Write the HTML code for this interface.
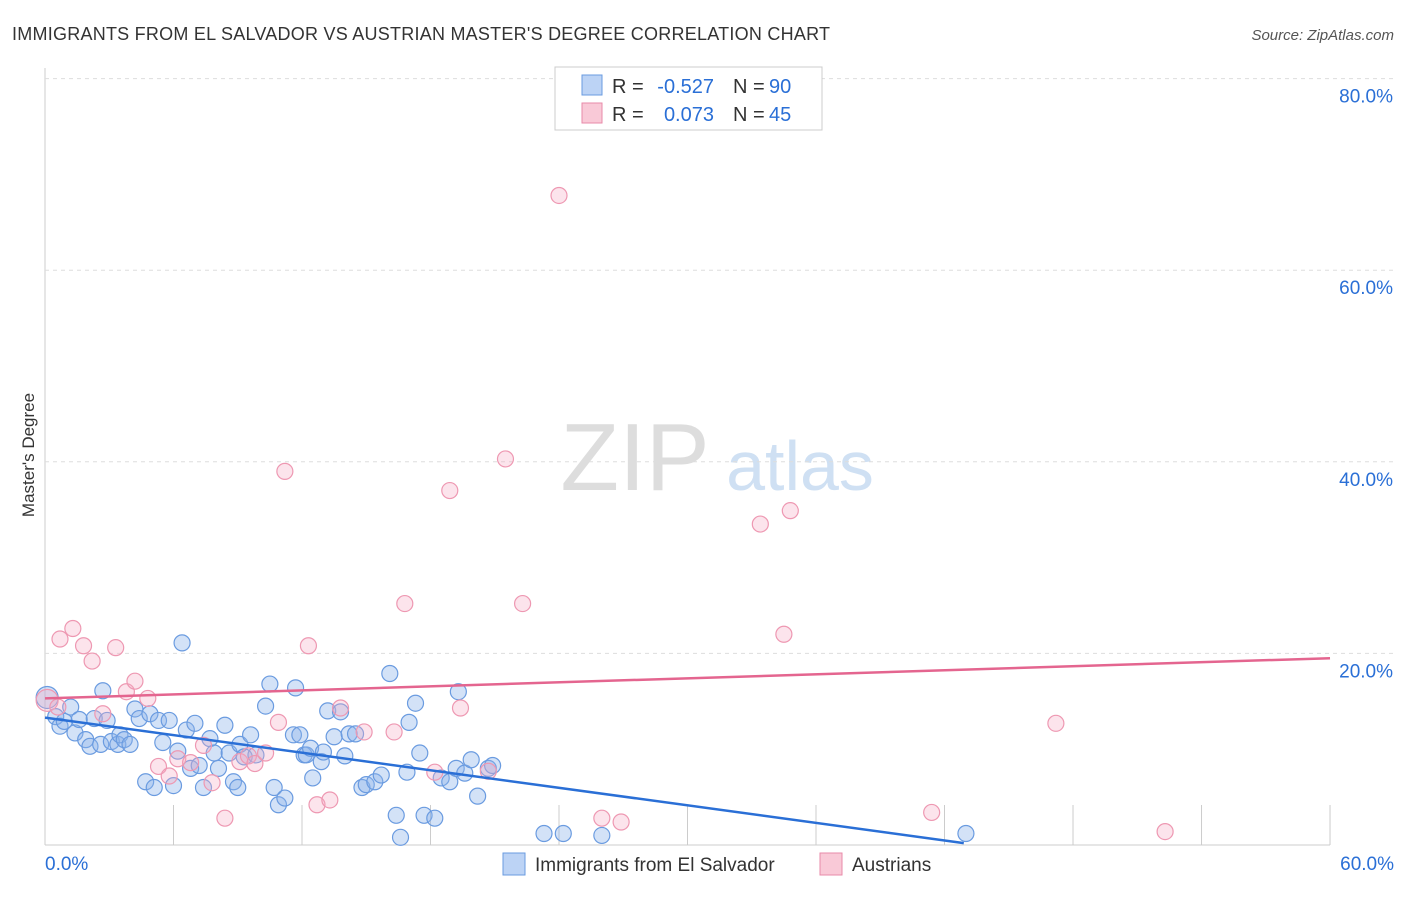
<!DOCTYPE html>
<html><head><meta charset="utf-8"><style>
body{margin:0;background:#fff;font-family:"Liberation Sans",sans-serif}
svg text{font-family:"Liberation Sans",sans-serif}
</style></head><body>
<svg id="c" width="1406" height="892">
<text x="12" y="40" font-size="18" fill="#333" textLength="818">IMMIGRANTS FROM EL SALVADOR VS AUSTRIAN MASTER'S DEGREE CORRELATION CHART</text>
<text x="1394" y="40" font-size="15" fill="#555" text-anchor="end" font-style="italic">Source: ZipAtlas.com</text>
<text x="34" y="455" font-size="17" fill="#333" text-anchor="middle" transform="rotate(-90 34 455)">Master's Degree</text>
<text x="635" y="490" font-size="96" fill="#ddd" text-anchor="middle" font-family="Liberation Serif">ZIP</text>
<text x="800" y="490" font-size="70" fill="#cfe0f3" text-anchor="middle">atlas</text>
<g id="grid"></g><g id="pts"></g><g id="lines"></g>
<g>
<rect x="555" y="67" width="267" height="63" fill="#fff" stroke="#ccc"/>
<rect x="582" y="75" width="20" height="20" fill="#bcd3f5" stroke="#6a9be0"/>
<rect x="582" y="103" width="20" height="20" fill="#f9c9d7" stroke="#e88aa8"/>
<text x="612" y="93" font-size="20" fill="#333">R =</text>
<text x="714" y="93" font-size="20" fill="#2a6fd6" text-anchor="end">-0.527</text>
<text x="733" y="93" font-size="20" fill="#333">N =</text>
<text x="769" y="93" font-size="20" fill="#2a6fd6">90</text>
<text x="612" y="121" font-size="20" fill="#333">R =</text>
<text x="714" y="121" font-size="20" fill="#2a6fd6" text-anchor="end">0.073</text>
<text x="733" y="121" font-size="20" fill="#333">N =</text>
<text x="769" y="121" font-size="20" fill="#2a6fd6">45</text>
</g>
<g>
<rect x="503" y="853" width="22" height="22" fill="#bcd3f5" stroke="#6a9be0"/>
<text x="535" y="871" font-size="19" fill="#333">Immigrants from El Salvador</text>
<rect x="820" y="853" width="22" height="22" fill="#f9c9d7" stroke="#e88aa8"/>
<text x="852" y="871" font-size="19" fill="#333">Austrians</text>
</g>
</svg>
<script>
const yTicks=[20,40,60,80];
const xTickLabels=["0.0%","60.0%"];
const blueX=[0.1,0.5,0.7,0.9,1.2,1.4,1.6,1.9,2.1,2.3,2.6,2.7,2.9,3.1,3.4,3.5,3.7,3.97,4.2,4.4,4.7,4.9,5.1,5.3,5.5,5.8,6.0,6.2,6.4,6.6,6.8,7.0,7.2,7.4,7.7,7.9,8.1,8.4,8.6,8.8,9.0,9.1,9.3,9.6,9.85,10.3,10.5,10.7,10.9,11.2,11.6,11.7,11.9,12.1,12.2,12.5,12.4,12.9,13.0,13.2,13.5,13.8,14.0,14.2,14.5,14.8,15.0,15.4,15.7,16.1,16.4,16.6,16.9,17.0,17.3,17.5,17.7,18.2,18.5,18.9,19.2,19.3,19.6,19.9,20.2,20.7,20.9,23.3,24.2,26.0,43.0];
const blueY=[15.4,13.4,12.4,12.9,14.4,11.7,13.1,11.0,10.3,13.2,10.5,16.1,13.0,10.8,10.5,11.5,11.0,10.5,14.2,13.2,6.6,13.7,6.0,13.0,10.7,13.0,6.2,9.8,21.1,12.0,8.0,12.7,8.3,6.0,11.1,9.6,8.0,12.5,9.6,6.6,6.0,10.5,9.2,11.5,9.4,14.5,16.8,6.0,4.2,4.9,11.5,16.4,11.5,9.4,9.4,7.0,10.1,8.7,9.7,14.0,11.3,13.9,9.3,11.6,11.6,6.0,6.3,6.6,7.3,17.9,3.1,0.8,7.6,12.8,14.8,9.6,3.1,2.8,7.0,6.6,8.0,16.0,7.5,8.9,5.1,8.0,8.3,1.2,1.2,1.0,1.2];
const pinkX=[0.1,0.6,0.7,1.3,1.8,2.2,2.7,3.3,3.8,4.2,4.8,5.3,5.8,6.2,6.8,7.4,7.8,8.4,9.1,9.5,9.8,10.3,10.9,11.2,12.3,12.7,13.3,13.8,14.9,16.3,16.8,18.2,18.9,19.4,20.7,21.5,22.3,24.0,26.0,26.9,33.4,34.5,34.8,41.4,47.2,52.3];
const pinkY=[15.1,14.4,21.5,22.6,20.8,19.2,13.7,20.6,16.0,17.1,15.3,8.2,7.2,9.0,8.6,10.4,6.5,2.8,8.7,9.3,8.5,9.6,12.8,39.0,20.8,4.2,4.7,14.3,11.8,11.8,25.2,7.6,37.0,14.3,7.7,40.3,25.2,67.8,2.8,2.4,33.5,22.0,34.9,3.4,12.7,1.4];
const X=v=>45+v*21.417, Y=v=>845-v*9.58;
const NS="http://www.w3.org/2000/svg";
function mk(t,a,p){const e=document.createElementNS(NS,t);for(const k in a)e.setAttribute(k,a[k]);p.appendChild(e);return e;}
const g=document.getElementById('grid');
let ax=mk('line',{x1:45,y1:68,x2:45,y2:845,stroke:'#ccc'},g);


let bx=mk('line',{x1:45,y1:845,x2:1330,y2:845,stroke:'#ccc'},g);


for(let i=1;i<=10;i++){const x=X(i*6);const t=mk('line',{x1:x,y1:805,x2:x,y2:845,stroke:'#ccc'},g);

}
yTicks.forEach(v=>{const l=mk('line',{x1:45,y1:Y(v),x2:1395,y2:Y(v),stroke:'#ddd','stroke-dasharray':'4 4'},g);


const t=mk('text',{x:1393,y:Y(v)+24,'font-size':19,fill:'#2a6fd6','text-anchor':'end'},g);t.textContent=v.toFixed(1)+'%';

});
[[0,'start',45],[60,'end',1394]].forEach((d,i)=>{const t=mk('text',{x:d[2],y:870,'font-size':19,fill:'#2a6fd6','text-anchor':d[1]},g);t.textContent=xTickLabels[i];

});
const p=document.getElementById('pts');
blueX.forEach((v,i)=>{const c=mk('circle',{cx:X(v),cy:Y(blueY[i]),r:i==0?11:8,fill:'rgba(140,180,235,0.38)',stroke:'#6a9be0','stroke-width':1.2},p);

});
pinkX.forEach((v,i)=>{const c=mk('circle',{cx:X(v),cy:Y(pinkY[i]),r:i==0?11:8,fill:'rgba(245,170,195,0.32)',stroke:'#ee98b2','stroke-width':1.2},p);

});
const L=document.getElementById('lines');
let b=mk('line',{x1:X(0),y1:Y(13.3),x2:X(42.9),y2:Y(0.2),stroke:'#2a6fd6','stroke-width':2.5},L);


let q=mk('line',{x1:X(0),y1:Y(15.3),x2:X(60),y2:Y(19.5),stroke:'#e4658f','stroke-width':2.5},L);


</script>
</body></html>
